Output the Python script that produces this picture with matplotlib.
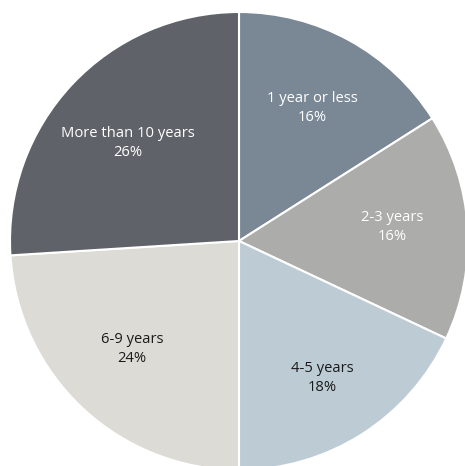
import matplotlib
matplotlib.use("Agg")
import matplotlib.pyplot as plt
import numpy as np

categories = ["1 year or less", "2-3 years", "4-5 years", "6-9 years", "More than 10 years"]
values = [16, 16, 18, 24, 26]
colors = ["#7A8896", "#ACACAA", "#BDCCD4", "#DCDBD6", "#5F6369"]
text_colors = ["white", "white", "#1a1a1a", "#1a1a1a", "white"]
# label centre positions, in units of the pie radius (layout only)
label_pos = [(0.319, 0.581), (0.668, 0.061), (0.362, -0.598), (-0.467, -0.472), (-0.485, 0.428)]

plt.rcParams['font.family'] = ['Open Sans', 'DejaVu Sans']

fig = plt.figure(figsize=(4.65, 4.66), dpi=100)
ax = fig.add_axes([0, 0, 1, 1])
cx, cy, r = 239, 241, 229
W, H = 465, 466
wedges, _ = ax.pie(values, colors=colors, startangle=90, counterclock=False,
                   radius=r, center=(cx, H - cy),
                   wedgeprops=dict(edgecolor="white", linewidth=1.5))
ax.set_xlim(0, W)
ax.set_ylim(0, H)
ax.set_aspect("equal")
ax.axis("off")

total = sum(values)
for w, cat, v, tc, (px, py) in zip(wedges, categories, values, text_colors, label_pos):
    x = cx + px * r
    y = H - cy + py * r
    ax.text(x, y, f"{cat}\n{round(100 * v / total)}%", ha="center", va="center",
            color=tc, fontsize=10.6, linespacing=1.4)

fig.savefig("out.png", dpi=100)
